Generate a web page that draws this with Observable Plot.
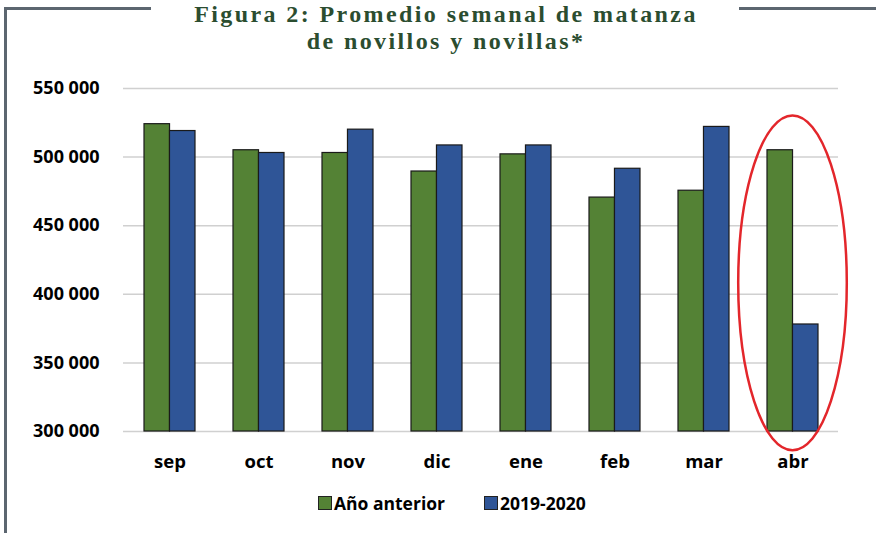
<!DOCTYPE html>
<html>
<head>
<meta charset="utf-8">
<script src="https://cdn.jsdelivr.net/npm/d3@7"></script>
<script src="https://cdn.jsdelivr.net/npm/@observablehq/plot@0.6"></script>
<style>
  html, body { margin: 0; padding: 0; background: #fff; }
  #wrap { position: relative; width: 876px; height: 533px; overflow: hidden; background: #fff; }
  .frame { position: absolute; background: #5c6670; }
  .tline { position: absolute; left: 146px; width: 600px; text-align: center;
           font-family: "Liberation Serif", serif; font-weight: bold; font-size: 24px; line-height: 22px;
           letter-spacing: 2.4px; color: #2b4d30; }
  #chart { position: absolute; left: 0; top: 60px; }
  #legend { position: absolute; left: 318px; top: 491px; display: flex; align-items: center;
            font-family: "Open Sans", sans-serif; font-weight: bold; font-size: 17.5px; color: #000; }
  .item { display: flex; align-items: center; }
  .sw { width: 12px; height: 12px; border: 1px solid #222; margin-right: 2px; }
</style>
</head>
<body>
<div id="wrap">
  <div class="frame" style="left:4px; top:7px; width:3px; height:530px;"></div>
  <div class="frame" style="left:4px; top:7px; width:147px; height:3px;"></div>
  <div class="frame" style="left:739px; top:7px; width:140px; height:3px;"></div>
  <div class="tline" style="top:2.5px;">Figura 2: Promedio semanal de matanza</div>
  <div class="tline" style="top:30px;">de novillos y novillas*</div>
  <div id="chart"></div>
  <div id="legend"></div>
</div>
<script>
const months = ["sep", "oct", "nov", "dic", "ene", "feb", "mar", "abr"];
const anterior = [524000, 505000, 503000, 489500, 502000, 470500, 475500, 505000];
const actual   = [519000, 503000, 520000, 508500, 508500, 491500, 522000, 378000];
const yTicks = [300000, 350000, 400000, 450000, 500000, 550000];
const seriesNames = ["Año anterior", "2019-2020"];
const seriesColors = ["#548235", "#2f5597"];

const data = months.map((m, i) => ({month: m, anterior: anterior[i], actual: actual[i]}));
const fmt = d3.formatLocale({decimal: ",", thousands: " ", grouping: [3], currency: ["", ""]}).format(",d");

const W = 876, H = 420, ML = 123, MR = 38, MT = 28, MB = 49;
const padIn = 0.43, padOut = padIn / 2;
const step = (W - ML - MR) / (months.length - padIn + 2 * padOut);
const half = step * (1 - padIn) / 2;

const chart = Plot.plot({
  width: W, height: H,
  marginLeft: ML, marginRight: MR, marginTop: MT, marginBottom: MB,
  style: {fontFamily: "'Open Sans', sans-serif", fontWeight: "bold", fontSize: "18px", color: "#000", background: "transparent"},
  x: {domain: months, paddingInner: padIn, paddingOuter: padOut, label: null},
  y: {domain: [300000, 550000], label: null},
  marks: [
    Plot.gridY(yTicks, {stroke: "#d0d0d0", strokeOpacity: 1, strokeWidth: 1.5}),
    Plot.barY(data, {x: "month", y1: 300000, y2: "anterior", fill: seriesColors[0], stroke: "#1a1a1a", strokeWidth: 1.2, insetRight: half}),
    Plot.barY(data, {x: "month", y1: 300000, y2: "actual", fill: seriesColors[1], stroke: "#1a1a1a", strokeWidth: 1.2, insetLeft: half}),
    Plot.axisY({ticks: yTicks, tickSize: 0, tickPadding: 24, tickFormat: fmt, label: null, fontSize: 18}),
    Plot.axisX({tickSize: 0, tickPadding: 23, label: null, fontSize: 18.5})
  ]
});
document.getElementById("chart").appendChild(chart);

// highlight ellipse around "abr", placed through the plot's scales
const sx = chart.scale("x"), sy = chart.scale("y");
const cx = sx.apply("abr") + sx.bandwidth / 2;
const yTop = sy.apply(530000), yBot = sy.apply(286000);
d3.select(chart).append("ellipse")
  .attr("cx", cx).attr("cy", (yTop + yBot) / 2)
  .attr("rx", sx.step * 0.61).attr("ry", (yBot - yTop) / 2)
  .attr("fill", "none").attr("stroke", "#e3262b").attr("stroke-width", 2.5);

const legend = document.getElementById("legend");
seriesNames.forEach((name, i) => {
  const it = document.createElement("div");
  it.className = "item";
  if (i > 0) it.style.marginLeft = "39px";
  const sw = document.createElement("div");
  sw.className = "sw";
  sw.style.background = seriesColors[i];
  const tx = document.createElement("span");
  tx.textContent = name;
  it.appendChild(sw); it.appendChild(tx);
  legend.appendChild(it);
});
</script>
</body>
</html>
